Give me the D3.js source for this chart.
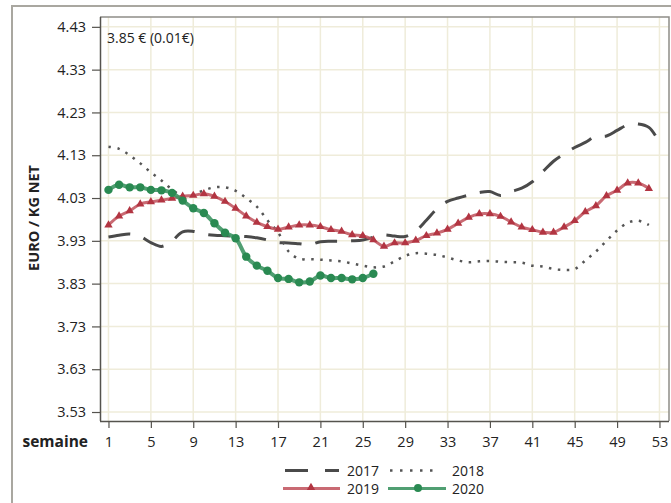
<!DOCTYPE html>
<html><head><meta charset="utf-8">
<script src="https://cdn.jsdelivr.net/npm/d3@7"></script>
<style>
body{margin:0;background:#fff;}
text{font-family:"Open Sans","DejaVu Sans",sans-serif;fill:#222;}
</style></head>
<body>
<svg id="chart" width="671" height="503"></svg>
<script>
const yTicks = [3.53,3.63,3.73,3.83,3.93,4.03,4.13,4.23,4.33,4.43];
const xTicks = [1,5,9,13,17,21,25,29,33,37,41,45,49,53];
const annotation = "3.85 € (0.01€)";
const seriesNames = ["2017","2018","2019","2020"];

const v2017 = [3.939,3.943,3.946,3.940,3.926,3.917,3.930,3.951,3.952,3.946,
3.943,3.942,3.941,3.940,3.937,3.932,3.926,3.925,3.923,3.921,
3.928,3.929,3.929,3.930,3.932,3.938,3.944,3.941,3.940,3.953,
3.978,4.005,4.022,4.030,4.037,4.043,4.045,4.036,4.045,4.053,
4.068,4.092,4.116,4.133,4.148,4.160,4.174,4.175,4.188,4.201,
4.203,4.195,4.160];
const v2018 = [4.150,4.145,4.130,4.111,4.090,4.071,4.050,4.035,4.038,4.048,
4.055,4.055,4.047,4.030,4.010,3.978,3.950,3.905,3.888,3.887,
3.886,3.884,3.882,3.877,3.872,3.868,3.870,3.882,3.895,3.901,
3.900,3.897,3.891,3.884,3.880,3.882,3.883,3.881,3.880,3.879,
3.872,3.870,3.864,3.862,3.864,3.884,3.905,3.930,3.954,3.972,
3.977,3.967];
const v2019 = [3.967,3.988,4.000,4.016,4.021,4.025,4.029,4.034,4.036,4.040,
4.034,4.022,4.006,3.988,3.973,3.963,3.957,3.962,3.967,3.967,
3.963,3.956,3.952,3.944,3.942,3.932,3.917,3.925,3.925,3.931,
3.942,3.948,3.957,3.971,3.985,3.993,3.993,3.987,3.974,3.962,
3.956,3.950,3.950,3.962,3.977,3.998,4.012,4.035,4.048,4.065,
4.065,4.052];
const v2020 = [4.049,4.061,4.055,4.055,4.049,4.048,4.042,4.024,4.006,3.995,
3.971,3.949,3.936,3.893,3.872,3.860,3.843,3.841,3.833,3.835,
3.849,3.843,3.843,3.840,3.843,3.853];

const svg = d3.select("#chart");
const L=100,R=669,T=17,B=421;
const x = d3.scaleLinear().domain([0.2,53.9]).range([L,R]);
const y = d3.scaleLinear().domain([3.509,4.453]).range([B,T]);

// outer frame
svg.append("path").attr("d","M12,503 L12,6 L671,6").attr("fill","none").attr("stroke","#a9a7a0").attr("stroke-width",2);

// grid
const g = svg.append("g");
g.selectAll(".vg").data(xTicks).join("line")
 .attr("x1",d=>x(d)).attr("x2",d=>x(d)).attr("y1",T).attr("y2",B)
 .attr("stroke","#efecda").attr("stroke-width",1.5);
g.selectAll(".hg").data(yTicks).join("line")
 .attr("y1",d=>y(d)).attr("y2",d=>y(d)).attr("x1",L).attr("x2",R)
 .attr("stroke","#efecda").attr("stroke-width",1.5);

// top/right border
svg.append("path").attr("d",`M${L},${T} L${R},${T} L${R},${B}`).attr("fill","none").attr("stroke","#8f8d88").attr("stroke-width",1.5);

// axes
const yAxis = svg.append("g").attr("transform",`translate(${L},0)`)
 .call(d3.axisLeft(y).tickValues(yTicks).tickFormat(d3.format(".2f")).tickSize(8).tickPadding(6));
const xAxis = svg.append("g").attr("transform",`translate(0,${B})`)
 .call(d3.axisBottom(x).tickValues(xTicks).tickFormat(d3.format("d")).tickSize(7).tickPadding(9));
[yAxis,xAxis].forEach(a=>{
  a.select(".domain").attr("stroke","#55534e").attr("stroke-width",1.5);
  a.selectAll(".tick line").attr("stroke","#55534e").attr("stroke-width",1.2);
  a.selectAll(".tick text").attr("font-size","14.5px").attr("fill","#222")
   .attr("font-family","'Open Sans',sans-serif");
});
xAxis.select(".domain").attr("d",`M${L},0.5H${R}`);
yAxis.select(".domain").attr("d",`M0.5,${B}V${T}`);

// labels
svg.append("text").attr("x",88).attr("y",447).attr("text-anchor","end")
 .attr("font-size","15.5px").attr("font-weight","bold").attr("font-family","'Open Sans',sans-serif").text("semaine");
svg.append("text").attr("transform","translate(39,218) rotate(-90)").attr("text-anchor","middle")
 .attr("font-size","14.5px").attr("font-weight","bold").attr("font-family","'Open Sans',sans-serif").text("EURO / KG NET");
svg.append("text").attr("x",107).attr("y",43).attr("font-size","14px").text(annotation);

const line = d3.line().x((d,i)=>x(i+1)).y(d=>y(d)).curve(d3.curveCatmullRom.alpha(0.5));

const plot = svg.append("g");
// 2017 dashed
plot.append("path").datum(v2017).attr("d",line).attr("fill","none")
 .attr("stroke","#4a4a4a").attr("stroke-width",3).attr("stroke-dasharray","22,14");
// 2018 dotted
plot.append("path").datum(v2018).attr("d",line).attr("fill","none")
 .attr("stroke","#555").attr("stroke-width",2.5).attr("stroke-dasharray","2.5,6.5");
// 2019 red
plot.append("path").datum(v2019).attr("d",line).attr("fill","none")
 .attr("stroke","#c0505a").attr("stroke-opacity",0.85).attr("stroke-width",3);
const tri = d3.symbol().type(d3.symbolTriangle).size(30);
plot.selectAll(".t19").data(v2019).join("path")
 .attr("transform",(d,i)=>`translate(${x(i+1)},${y(d)})`).attr("d",tri).attr("fill","#b23542");
// 2020 green
plot.append("path").datum(v2020).attr("d",line).attr("fill","none")
 .attr("stroke","#3d9563").attr("stroke-opacity",0.9).attr("stroke-width",4);
plot.selectAll(".c20").data(v2020).join("circle")
 .attr("cx",(d,i)=>x(i+1)).attr("cy",d=>y(d)).attr("r",4.2).attr("fill","#2a8a52");

// legend
const lg = svg.append("g");
lg.append("line").attr("x1",285).attr("x2",339).attr("y1",470.5).attr("y2",470.5)
 .attr("stroke","#4a4a4a").attr("stroke-width",3).attr("stroke-dasharray","23,17");
lg.append("line").attr("x1",390).attr("x2",440).attr("y1",470.5).attr("y2",470.5)
 .attr("stroke","#555").attr("stroke-width",2.5).attr("stroke-dasharray","2.5,7.5");
lg.append("line").attr("x1",283).attr("x2",340).attr("y1",488.5).attr("y2",488.5)
 .attr("stroke","#c0505a").attr("stroke-opacity",0.85).attr("stroke-width",3);
lg.append("path").attr("transform","translate(311,487.5)").attr("d",tri).attr("fill","#b23542");
lg.append("line").attr("x1",388).attr("x2",446).attr("y1",488.5).attr("y2",488.5)
 .attr("stroke","#3d9563").attr("stroke-opacity",0.9).attr("stroke-width",3);
lg.append("circle").attr("cx",418).attr("cy",488).attr("r",4).attr("fill","#2a8a52");
const lt = [[347,475.5,seriesNames[0]],[452,475.5,seriesNames[1]],[347,493.5,seriesNames[2]],[452,493.5,seriesNames[3]]];
lg.selectAll(".lt").data(lt).join("text").attr("x",d=>d[0]).attr("y",d=>d[1])
 .attr("font-size","14px").text(d=>d[2]);
</script>
</body></html>
